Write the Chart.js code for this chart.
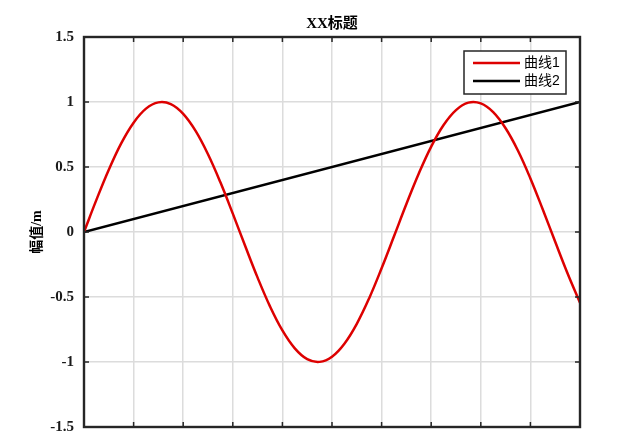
<!DOCTYPE html>
<html>
<head>
<meta charset="utf-8">
<script src="https://cdn.jsdelivr.net/npm/chart.js"></script>
<style>
  body { margin: 0; background: #fff; }
  #wrap { width: 640px; height: 432px; }
</style>
</head>
<body>
<div id="wrap"><canvas id="myChart"></canvas></div>
<script>
var xValues = [0, 0.25, 0.5, 0.75, 1, 1.25, 1.5, 1.75, 2, 2.25, 2.5, 2.75, 3, 3.25, 3.5, 3.75, 4, 4.25, 4.5, 4.75,
  5, 5.25, 5.5, 5.75, 6, 6.25, 6.5, 6.75, 7, 7.25, 7.5, 7.75, 8, 8.25, 8.5, 8.75, 9, 9.25, 9.5, 9.75, 10];
var curve1 = [0, 0.247, 0.479, 0.682, 0.841, 0.949, 0.997, 0.984, 0.909, 0.778, 0.598, 0.382, 0.141, -0.108,
  -0.351, -0.572, -0.757, -0.895, -0.978, -0.999, -0.959, -0.859, -0.706, -0.509, -0.279, -0.033, 0.215,
  0.450, 0.657, 0.823, 0.938, 0.995, 0.989, 0.922, 0.798, 0.625, 0.412, 0.173, -0.075, -0.319, -0.544];
var line2X = [0, 10];
var curve2 = [0, 1];
var seriesNames = ["曲线1", "曲线2"];
var titleText = "XX标题";
var yLabel = "幅值/m";
var yTicks = [-1.5, -1, -0.5, 0, 0.5, 1, 1.5];

var colors = ["#dd0000", "#000000"];

function pts(xs, ys) {
  return xs.map(function (x, i) { return { x: x, y: ys[i] }; });
}

// frame, inward ticks, title, y label and legend, matlab look
var matlabLook = {
  id: "matlabLook",
  afterDraw: function (chart) {
    var ctx = chart.ctx;
    var a = chart.chartArea;
    var xs = chart.scales.x, ys = chart.scales.y;
    ctx.save();
    ctx.strokeStyle = "#262626";
    ctx.lineWidth = 1.5;
    ctx.beginPath();
    for (var t = 1; t < 10; t++) {
      var px = xs.getPixelForValue(t);
      ctx.moveTo(px, a.bottom); ctx.lineTo(px, a.bottom - 5);
      ctx.moveTo(px, a.top); ctx.lineTo(px, a.top + 5);
    }
    yTicks.forEach(function (v) {
      var py = ys.getPixelForValue(v);
      ctx.moveTo(a.left, py); ctx.lineTo(a.left + 5, py);
      ctx.moveTo(a.right, py); ctx.lineTo(a.right - 5, py);
    });
    ctx.stroke();
    ctx.lineWidth = 2.4;
    ctx.strokeRect(a.left, a.top, a.right - a.left, a.bottom - a.top);

    // title
    ctx.fillStyle = "#000";
    ctx.textAlign = "center";
    ctx.textBaseline = "middle";
    ctx.font = "bold 15px 'Liberation Serif', 'Noto Sans CJK SC', serif";
    ctx.fillText(titleText, (a.left + a.right) / 2, 24);

    // y label
    ctx.save();
    ctx.translate(37, (a.top + a.bottom) / 2);
    ctx.rotate(-Math.PI / 2);
    ctx.font = "bold 14px 'Liberation Serif', 'Noto Sans CJK SC', serif";
    ctx.fillText(yLabel, 0, 0);
    ctx.restore();

    // legend
    var lx = 464, ly = 51, lw = 102, lh = 43;
    ctx.fillStyle = "#fff";
    ctx.fillRect(lx, ly, lw, lh);
    ctx.lineWidth = 1.5;
    ctx.strokeStyle = "#262626";
    ctx.strokeRect(lx, ly, lw, lh);
    ctx.textAlign = "left";
    ctx.font = "14px 'Liberation Sans', 'Noto Sans CJK SC', sans-serif";
    chart.data.datasets.forEach(function (ds, i) {
      var yy = ly + 12 + i * 18;
      ctx.strokeStyle = ds.borderColor;
      ctx.lineWidth = 2.5;
      ctx.beginPath();
      ctx.moveTo(lx + 9, yy); ctx.lineTo(lx + 56, yy);
      ctx.stroke();
      ctx.fillStyle = "#000";
      ctx.fillText(ds.label, lx + 60, yy);
    });
    ctx.restore();
  }
};

new Chart("myChart", {
  type: "line",
  data: {
    datasets: [{
      label: seriesNames[0],
      data: pts(xValues, curve1),
      borderColor: colors[0],
      borderWidth: 2.5,
      pointRadius: 0,
      tension: 0.4,
      fill: false
    }, {
      label: seriesNames[1],
      data: pts(line2X, curve2),
      borderColor: colors[1],
      borderWidth: 2.5,
      pointRadius: 0,
      fill: false
    }]
  },
  options: {
    responsive: true,
    maintainAspectRatio: false,
    animation: false,
    layout: { padding: { top: 37, right: 60, bottom: 5, left: 0 } },
    plugins: {
      legend: { display: false },
      title: { display: false },
      tooltip: { enabled: false }
    },
    scales: {
      x: {
        type: "linear",
        min: 0,
        max: 10,
        ticks: { display: false, stepSize: 1 },
        grid: { color: "#dcdcdc", lineWidth: 1.5, drawTicks: false },
        border: { display: false },
        afterFit: function (s) { s.height = 0; s.paddingLeft = 0; s.paddingRight = 0; }
      },
      y: {
        min: -1.5,
        max: 1.5,
        afterBuildTicks: function (s) { s.ticks = yTicks.map(function (v) { return { value: v }; }); },
        ticks: {
          color: "#1a1a1a",
          padding: 10,
          callback: function (v) { return String(v); },
          font: { family: "'Liberation Serif', 'Times New Roman', serif", size: 15, weight: "bold" }
        },
        grid: { color: "#dcdcdc", lineWidth: 1.5, drawTicks: false },
        border: { display: false },
        afterFit: function (s) { s.width = 84; s.paddingTop = 0; s.paddingBottom = 0; }
      }
    }
  },
  plugins: [matlabLook]
});
</script>
</body>
</html>
